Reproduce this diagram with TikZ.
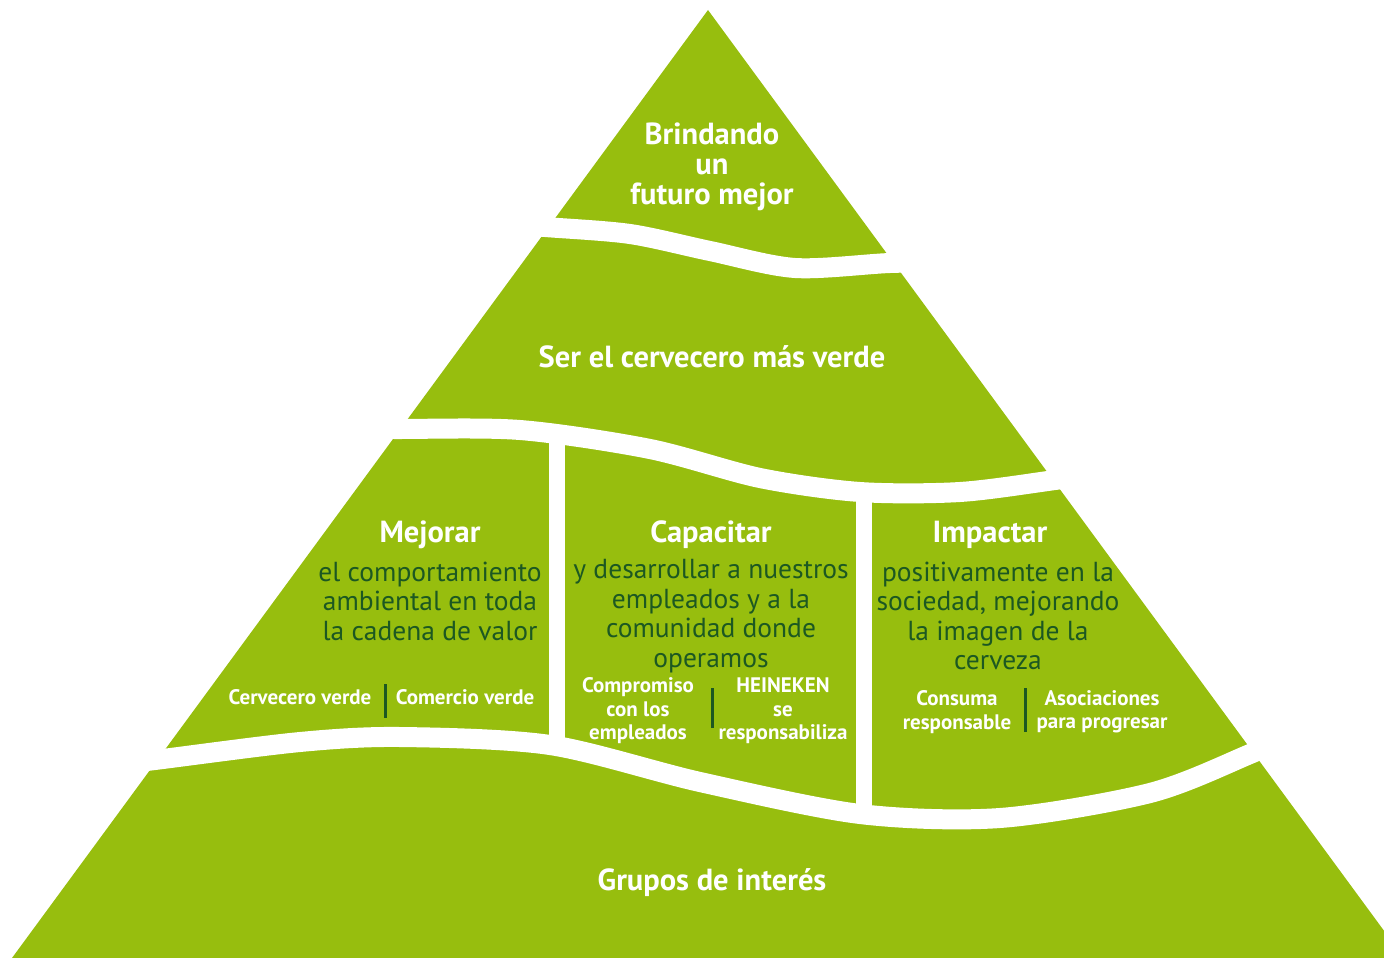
\documentclass[tikz,border=0pt]{standalone}
\usepackage{fontspec}
\setmainfont{PT Sans}
\definecolor{pyrgreen}{RGB}{151,190,14}
\definecolor{txtgreen}{RGB}{28,88,34}
\tikzset{
  band/.style={fill=pyrgreen},
  gap/.style={draw=white, line width=20pt, line cap=butt},
  vgap/.style={draw=white, line width=16pt},
  title/.style={text=white, font=\bfseries\fontsize{30.5}{30}\selectfont, align=center},
  body/.style={text=txtgreen, font=\fontsize{27.5}{29.5}\selectfont, align=center},
  small/.style={text=white, font=\bfseries\fontsize{21}{23.5}\selectfont, align=center},
  bar/.style={draw=txtgreen, line width=3pt}
}
\begin{document}
\begin{tikzpicture}[x=1pt, y=-1pt]
    \useasboundingbox (0,0) rectangle (1384,958);
    \begin{scope}
        \clip (0,0) rectangle (1384,958);
        \fill[band] (708,10) -- (1404,958) -- (12,958) -- cycle;
        % white waves between the levels
        \draw[gap] plot[smooth] coordinates {(480,222) (545,227) (630,234) (710,251) (795,268) (890,263) (960,262)};
        \draw[gap] plot[smooth] coordinates {(330,429) (395,429) (520,430) (650,449) (760,478) (860,492) (960,492) (1055,480) (1110,472)};
        \draw[gap] plot[smooth] coordinates {(60,772) (155,760) (300,742) (400,737) (550,745) (700,782) (860,814) (1000,818) (1150,793) (1250,754) (1320,722)};
        \draw[vgap] (557,430) -- (557,752);
        \draw[vgap] (864,485) -- (864,822);
    \end{scope}
    % levels
    \node[title] (top) at (712,167) {Brindando\\un\\futuro mejor};
    \node[title] (verde) at (712,357) {Ser el cervecero más verde};
    \node[title] (mejorar) at (430,535) {Mejorar};
    \node[body] (mejorarTxt) at (430,601) {el comportamiento\\ambiental en toda\\la cadena de valor};
    \node[title] (capacitar) at (711,535) {Capacitar};
    \node[body] (capacitarTxt) at (711,616) {y desarrollar a nuestros\\empleados y a la\\comunidad donde\\operamos};
    \node[title] (impactar) at (990,535) {Impactar};
    \node[body] (impactarTxt) at (998,616) {positivamente en la\\sociedad, mejorando\\la imagen de la\\cerveza};
    \node[title] (grupos) at (712,883) {Grupos de interés};
    % sub items
    \node[small] (cerv) at (300,697) {Cervecero verde};
    \node[small] (comer) at (465,697) {Comercio verde};
    \coordinate (b1t) at (385,684);
    \coordinate (b1b) at (385,718);
    \draw[bar] (b1t) -- (b1b);
    \node[small] (comp) at (638,711) {Compromiso\\con los\\empleados};
    \node[small] (hein) at (783,711) {HEINEKEN\\se\\responsabiliza};
    \coordinate (b2t) at (712,688);
    \coordinate (b2b) at (712,728);
    \draw[bar] (b2t) -- (b2b);
    \node[small] (cons) at (957,712) {Consuma\\responsable};
    \node[small] (asoc) at (1102,712) {Asociaciones\\para progresar};
    \coordinate (b3t) at (1025,688);
    \coordinate (b3b) at (1025,732);
    \draw[bar] (b3t) -- (b3b);
\end{tikzpicture}
\end{document}
